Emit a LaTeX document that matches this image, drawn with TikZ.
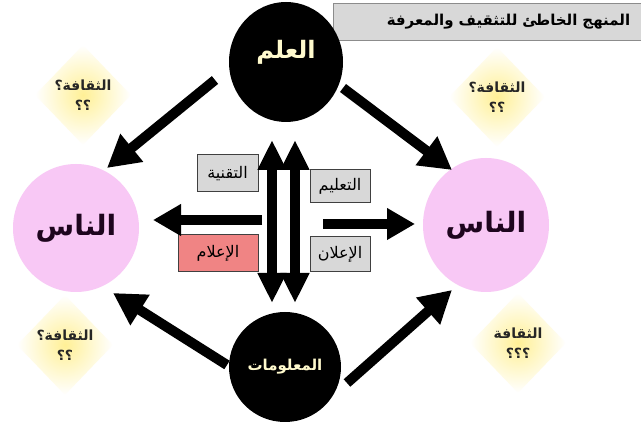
\documentclass[tikz,border=0pt]{standalone}
\usepackage{fontspec}
\usetikzlibrary{arrows.meta,shapes.geometric}
\TeXXeTstate=1
\newfontfamily\arabicfont[Script=Arabic]{DejaVu Sans}
\newcommand{\artxt}[1]{\arabicfont\beginR #1\endR}
\definecolor{pinkc}{RGB}{248,200,245}
\definecolor{boxgray}{RGB}{216,216,216}
\definecolor{salmonc}{RGB}{240,132,132}
\definecolor{creamc}{RGB}{255,250,205}
\definecolor{glowc}{RGB}{255,240,150}
\definecolor{inkc}{RGB}{30,5,30}
\tikzset{
  blackc/.style={ellipse, fill=black, inner sep=0pt},
  pinkcirc/.style={ellipse, fill=pinkc, inner sep=0pt, text=inkc, font=\fontsize{28}{30}\selectfont\bfseries},
  glowd/.style={diamond, inner color=glowc, outer color=white, minimum width=96pt, minimum height=100pt, inner sep=0pt, align=center, font=\fontsize{14}{20}\selectfont\bfseries, text=black!85},
  lbl/.style={draw=black!75, line width=1pt, fill=boxgray, inner sep=0pt, font=\fontsize{16}{18}\selectfont},
  bigarrow/.style={line width=10pt, -{Triangle[length=32pt,width=34pt]}},
  harrow/.style={line width=10pt, -{Triangle[length=28pt,width=30pt]}},
  varrow/.style={line width=10pt, {Triangle[length=30pt,width=27pt]}-{Triangle[length=30pt,width=27pt]}}
}
\begin{document}
\begin{tikzpicture}[x=1pt,y=-1pt]
\useasboundingbox[fill=white] (0,0) rectangle (641,435);

% title
\node[draw=black!45, fill=boxgray, anchor=north west, text width=282pt, align=right,
      inner xsep=15pt, minimum height=37pt, font=\fontsize{15}{17}\selectfont\bfseries]
      (title) at (333,3) {\artxt{المنهج الخاطئ للتثقيف والمعرفة}};

% diamonds
\node[glowd] (dtl) at (83,95) {\artxt{الثقافة؟}\\\artxt{؟؟}};
\node[glowd] (dtr) at (497,97) {\artxt{الثقافة؟}\\\artxt{؟؟}};
\node[glowd] (dbl) at (65,345) {\artxt{الثقافة؟}\\\artxt{؟؟}};
\node[glowd] (dbr) at (518,343) {\artxt{الثقافة}\\\artxt{؟؟؟}};

% circles
\node[blackc, minimum width=114pt, minimum height=120pt,
      label={[text=creamc, yshift=10pt, font=\fontsize{24}{26}\selectfont\bfseries]center:\artxt{العلم}}]
      (ilm) at (286,62) {};
\node[blackc, minimum width=112pt, minimum height=110pt, text=creamc,
      font=\fontsize{15}{17}\selectfont\bfseries] (maal) at (285,367) {\artxt{المعلومات}};
\node[pinkcirc, minimum width=126pt, minimum height=128pt] (nasL) at (76,228) {\artxt{الناس}};
\node[pinkcirc, minimum width=126pt, minimum height=134pt] (nasR) at (486,225) {\artxt{الناس}};

% label boxes
\node[lbl, minimum width=61pt, minimum height=37pt] (tech) at (227.5,173.5) {\artxt{التقنية}};
\node[lbl, minimum width=60pt, minimum height=33pt] (edu) at (340,186.5) {\artxt{التعليم}};
\node[lbl, fill=salmonc, minimum width=80pt, minimum height=37pt] (media) at (218,253.5) {\artxt{الإعلام}};
\node[lbl, minimum width=60pt, minimum height=35pt] (adv) at (340,254.5) {\artxt{الإعلان}};

% arrow end points
\coordinate (tlA) at (215,80);  \coordinate (tlB) at (107,168);
\coordinate (trA) at (343,88);  \coordinate (trB) at (452,170);
\coordinate (blA) at (227,365); \coordinate (blB) at (113,293);
\coordinate (brA) at (347,383); \coordinate (brB) at (452,290);
\coordinate (hlA) at (262,220); \coordinate (hlB) at (153,220);
\coordinate (hrA) at (323,224); \coordinate (hrB) at (415,224);
\coordinate (v1A) at (272,303); \coordinate (v1B) at (272,140);
\coordinate (v2A) at (295,303); \coordinate (v2B) at (295,140);

\draw[bigarrow] (tlA) -- (tlB);
\draw[bigarrow] (trA) -- (trB);
\draw[bigarrow] (blA) -- (blB);
\draw[bigarrow] (brA) -- (brB);
\draw[harrow] (hlA) -- (hlB);
\draw[harrow] (hrA) -- (hrB);
\draw[varrow] (v1A) -- (v1B);
\draw[varrow] (v2A) -- (v2B);
\end{tikzpicture}
\end{document}
